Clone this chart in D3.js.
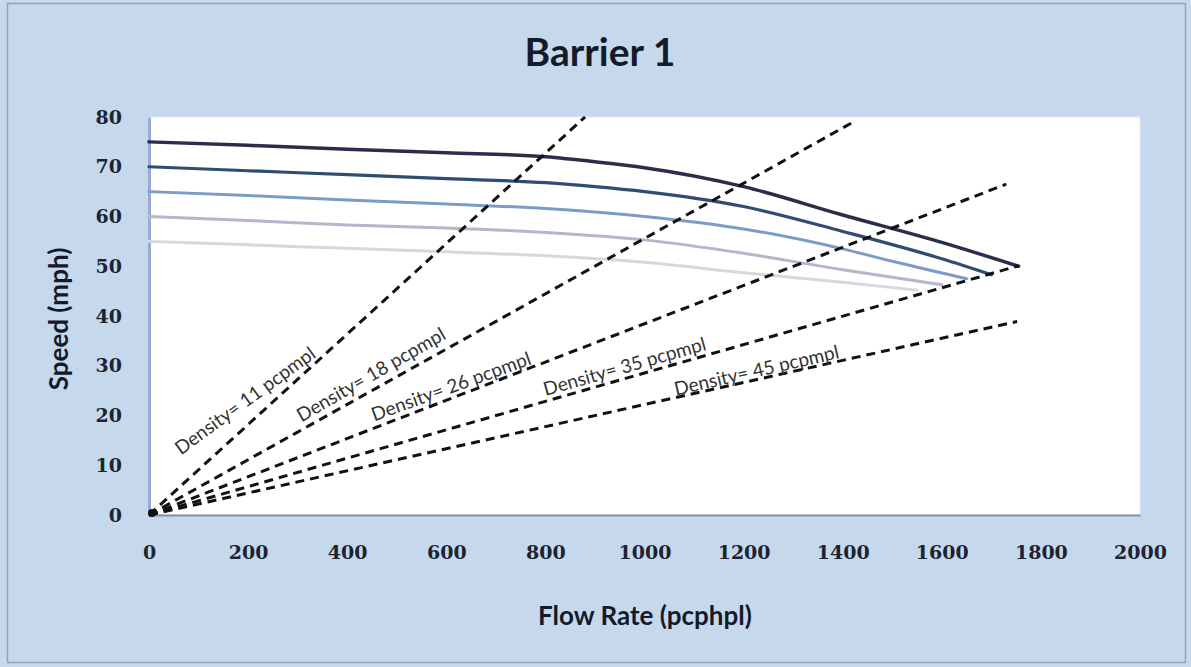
<!DOCTYPE html>
<html>
<head>
<meta charset="utf-8">
<script src="https://cdn.jsdelivr.net/npm/d3@7"></script>
<style>
  html, body { margin: 0; padding: 0; background: #c6d9ec; }
  svg { display: block; }
</style>
</head>
<body>
<svg id="chart" width="1191" height="667"></svg>
<script>
// ---------- data ----------
const title = "Barrier 1";
const xTitle = "Flow Rate (pcphpl)";
const yTitle = "Speed (mph)";
const xTicks = [0, 200, 400, 600, 800, 1000, 1200, 1400, 1600, 1800, 2000];
const yTicks = [0, 10, 20, 30, 40, 50, 60, 70, 80];

// speed-flow curves (free-flow speeds 75, 70, 65, 60, 55 mph)
const flow75 = [0, 200, 400, 600, 800, 900, 1000, 1200, 1400, 1600, 1755];
const speed75 = [75, 74.3, 73.5, 72.8, 72, 71, 69.8, 66, 60.3, 54.8, 50];
const flow70 = [0, 200, 400, 600, 800, 900, 1000, 1200, 1400, 1600, 1700];
const speed70 = [70, 69.2, 68.4, 67.6, 66.8, 66, 65, 62, 57, 51.5, 48.3];
const flow65 = [0, 200, 400, 600, 800, 1000, 1200, 1400, 1500, 1650];
const speed65 = [65, 64.2, 63.3, 62.5, 61.6, 60, 57.5, 53.5, 51, 47.5];
const flow60 = [0, 200, 400, 600, 800, 1000, 1200, 1400, 1600];
const speed60 = [60, 59.2, 58.3, 57.7, 56.8, 55.3, 52.6, 49.3, 46.3];
const flow55 = [0, 200, 400, 600, 800, 1000, 1200, 1400, 1550];
const speed55 = [55, 54.3, 53.6, 52.9, 52.1, 50.8, 48.7, 46.8, 45.2];

// density lines (pcpmpl): start at origin, end point
const densities = [11, 18, 26, 35, 45];
const densityEndFlow = [880, 1425, 1730, 1755, 1752];
const densityEndSpeed = [80, 79.2, 66.5, 50.1, 38.9];
const densityLabels = ["Density= 11 pcpmpl", "Density= 18 pcpmpl", "Density= 26 pcpmpl", "Density= 35 pcpmpl", "Density= 45 pcpmpl"];
// label anchor in data units
const labelFlow = [196, 450, 611, 961, 1227];
const labelSpeed = [22.7, 27.9, 25.5, 29.5, 28.7];

// ---------- styles ----------
const curveColors = ["#2b2d4d", "#2f4d72", "#7b9cc6", "#b2b8c9", "#d5d8de"];
const curveWidths = [3.5, 3.2, 3, 3, 3];
const labelAngles = [-36, -30, -20, -16, -13];

const svg = d3.select("#chart");
const W = 1191, H = 667;
const plot = { left: 149, right: 1140, top: 117, bottom: 515 };

// background + outer border
svg.append("rect").attr("x", 0).attr("y", 0).attr("width", W).attr("height", H).attr("fill", "#c6d9ec");
svg.append("rect").attr("x", 7.5).attr("y", 3.5).attr("width", W - 13).attr("height", H - 8)
  .attr("fill", "#c6d9ec").attr("stroke", "#8fa2ba").attr("stroke-width", 1.5);

const x = d3.scaleLinear().domain([0, 2000]).range([plot.left, plot.right]);
const y = d3.scaleLinear().domain([0, 80]).range([plot.bottom, plot.top]);

// plot area
svg.append("rect").attr("x", plot.left).attr("y", plot.top)
  .attr("width", plot.right - plot.left).attr("height", plot.bottom - plot.top)
  .attr("fill", "#ffffff").attr("stroke", "#e6e2f2").attr("stroke-width", 1);

// axes
const xAxis = d3.axisBottom(x).tickValues(xTicks).tickSize(0).tickPadding(0).tickFormat(d3.format("d"));
const gx = svg.append("g").attr("transform", `translate(0,${plot.bottom})`).call(xAxis);
gx.select(".domain").attr("stroke", "#8a8f98").attr("stroke-width", 2);
gx.selectAll(".tick text").attr("dy", null).attr("y", 44)
  .style("font-family", "'DejaVu Serif'").style("font-weight", "bold").style("font-size", "19px")
  .attr("fill", "#1c2333");

const yAxis = d3.axisLeft(y).tickValues(yTicks).tickSize(0).tickPadding(27).tickFormat(d3.format("d"));
const gy = svg.append("g").attr("transform", `translate(${plot.left},0)`).call(yAxis);
gy.select(".domain").attr("stroke", "#9ea9d2").attr("stroke-width", 3);
gy.selectAll(".tick text")
  .style("font-family", "'DejaVu Serif'").style("font-weight", "bold").style("font-size", "19px")
  .attr("fill", "#1c2333");

// speed-flow curves
const curves = [
  [flow55, speed55], [flow60, speed60], [flow65, speed65], [flow70, speed70], [flow75, speed75]
];
const colorsOrdered = [curveColors[4], curveColors[3], curveColors[2], curveColors[1], curveColors[0]];
const widthsOrdered = [curveWidths[4], curveWidths[3], curveWidths[2], curveWidths[1], curveWidths[0]];
const line = d3.line().x(d => x(d[0])).y(d => y(d[1])).curve(d3.curveMonotoneX);
curves.forEach((c, i) => {
  const pts = c[0].map((f, j) => [f, c[1][j]]);
  svg.append("path").datum(pts).attr("d", line)
    .attr("fill", "none").attr("stroke", colorsOrdered[i]).attr("stroke-width", widthsOrdered[i])
    .attr("stroke-linecap", "round").attr("stroke-linejoin", "round");
});

// density lines
const straight = d3.line().x(d => x(d[0])).y(d => y(d[1]));
densities.forEach((dv, i) => {
  svg.append("path").datum([[0, 0], [densityEndFlow[i], densityEndSpeed[i]]]).attr("d", straight)
    .attr("fill", "none").attr("stroke", "#111").attr("stroke-width", 3)
    .attr("stroke-dasharray", "9,6");
});
svg.append("circle").attr("cx", x(0) + 3).attr("cy", y(0) - 2).attr("r", 4).attr("fill", "#111");

// density labels
densityLabels.forEach((t, i) => {
  const cx = x(labelFlow[i]), cy = y(labelSpeed[i]);
  svg.append("text").attr("x", cx).attr("y", cy)
    .attr("transform", `rotate(${labelAngles[i]},${cx},${cy})`)
    .attr("text-anchor", "middle").attr("dominant-baseline", "middle")
    .style("font-family", "Lato").style("font-size", "19px").attr("fill", "#333")
    .text(t);
});

// titles
svg.append("text").attr("x", 600).attr("y", 66).attr("text-anchor", "middle")
  .style("font-family", "Lato").style("font-weight", "bold").style("font-size", "39px")
  .attr("fill", "#151a2b").text(title);
svg.append("text").attr("x", 645).attr("y", 625).attr("text-anchor", "middle")
  .style("font-family", "Lato").style("font-weight", "bold").style("font-size", "26px")
  .attr("fill", "#151a2b").text(xTitle);
svg.append("text").attr("transform", "translate(68,319) rotate(-90)").attr("text-anchor", "middle")
  .style("font-family", "Lato").style("font-weight", "bold").style("font-size", "26px")
  .attr("fill", "#151a2b").text(yTitle);
</script>
</body>
</html>
